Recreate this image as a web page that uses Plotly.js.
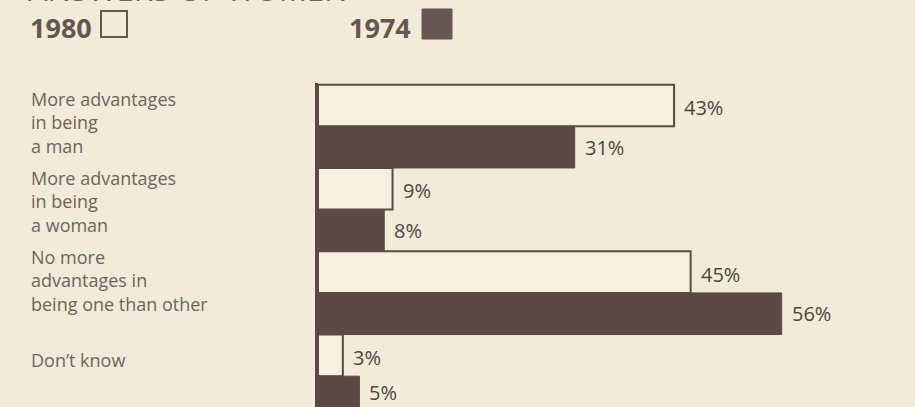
<!DOCTYPE html>
<html>
<head>
<meta charset="utf-8">
<script src="https://cdn.plot.ly/plotly-3.0.1.min.js"></script>
<style>
  html, body { margin: 0; padding: 0; background: #f2ebd9; }
  #chart { width: 915px; height: 407px; }
</style>
</head>
<body>
<div id="chart"></div>
<script>
// ---- data ----
const categories = [
  "More advantages<br>in being<br>a man",
  "More advantages<br>in being<br>a woman",
  "No more<br>advantages in<br>being one than other",
  "Don\u2019t know"
];
const series1980 = [43, 9, 45, 3];
const series1974 = [31, 8, 56, 5];
const seriesNames = ["1980", "1974"];
const headline = "ANSWERS OF WOMEN";

// ---- styling ----
const W = 915, H = 407;
const M = {l: 318, r: 0, t: 83, b: 0};
const plotW = W - M.l - M.r, plotH = H - M.t - M.b;
const bg = "#f2ebd9";
const dark = "#5c4945";
const lightFill = "#f6f0e0";
const labelColor = "#6e645f";
const valueColor = "#4f4540";
const font = "'Open Sans', 'DejaVu Sans', sans-serif";

const px2x = p => (p - M.l) / plotW;
const px2y = p => (H - M.b - p) / plotH;

const yIdx = categories.map((_, i) => i);

const traces = [
  {
    type: "bar", orientation: "h", name: seriesNames[0],
    y: yIdx, x: series1980,
    marker: {color: lightFill, line: {color: dark, width: 2}},
    hoverinfo: "skip"
  },
  {
    type: "bar", orientation: "h", name: seriesNames[1],
    y: yIdx, x: series1974,
    marker: {color: dark, line: {color: dark, width: 1}},
    hoverinfo: "skip"
  }
];

const annotations = categories.map((c, i) => ({
  text: c, xref: "paper", yref: "y",
  x: px2x(29), y: i * 0.95 - 0.05,
  xanchor: "left", yanchor: "middle", align: "left",
  showarrow: false,
  font: {family: font, size: 18, color: labelColor}
}));

// value labels at the end of each bar
[[series1980, -0.25, -2], [series1974, 0.25, 0]].forEach(([vals, off, ys]) => {
  vals.forEach((v, i) => {
    const last = (off > 0 && i === vals.length - 1);
    annotations.push({
      text: v + "%", xref: "x", yref: "y",
      x: v, y: i + off, xanchor: "left", yanchor: "middle",
      xshift: 8, yshift: last ? 5 : ys, showarrow: false,
      font: {family: font, size: 20, color: valueColor}
    });
  });
});

// legend labels
annotations.push({
  text: "<b>" + seriesNames[0] + "</b>", xref: "paper", yref: "paper",
  x: px2x(94), y: px2y(28), xanchor: "right", yanchor: "middle",
  showarrow: false, font: {family: font, size: 27, color: "#665652"}
});
annotations.push({
  text: "<b>" + seriesNames[1] + "</b>", xref: "paper", yref: "paper",
  x: px2x(413), y: px2y(28), xanchor: "right", yanchor: "middle",
  showarrow: false, font: {family: font, size: 27, color: "#665652"}
});
// cropped headline at the very top
annotations.push({
  text: headline, xref: "paper", yref: "paper",
  x: px2x(26), y: px2y(12), xanchor: "left", yanchor: "bottom",
  showarrow: false, font: {family: font, size: 31, color: "#6e645f"}
});

const shapes = [
  {type: "rect", xref: "paper", yref: "paper",
   x0: px2x(101), x1: px2x(127), y0: px2y(11), y1: px2y(37),
   line: {color: "#665652", width: 2}, fillcolor: "rgba(0,0,0,0)"},
  {type: "rect", xref: "paper", yref: "paper",
   x0: px2x(422), x1: px2x(452), y0: px2y(9), y1: px2y(39),
   line: {color: "#665652", width: 1}, fillcolor: "#665652"}
];

const layout = {
  width: W, height: H,
  margin: M,
  paper_bgcolor: bg, plot_bgcolor: bg,
  barmode: "group", bargap: 0, bargroupgap: 0,
  showlegend: false,
  xaxis: {range: [0, 72.1], showgrid: false, zeroline: false, showline: false,
          showticklabels: false, ticks: "", fixedrange: true},
  yaxis: {range: [3.37, -0.52], showgrid: false, zeroline: false,
          showline: true, linecolor: dark, linewidth: 3, mirror: false,
          showticklabels: false, ticks: "", fixedrange: true},
  annotations: annotations,
  shapes: shapes,
  font: {family: font}
};

Plotly.newPlot("chart", traces, layout, {displayModeBar: false, staticPlot: true});
</script>
</body>
</html>
